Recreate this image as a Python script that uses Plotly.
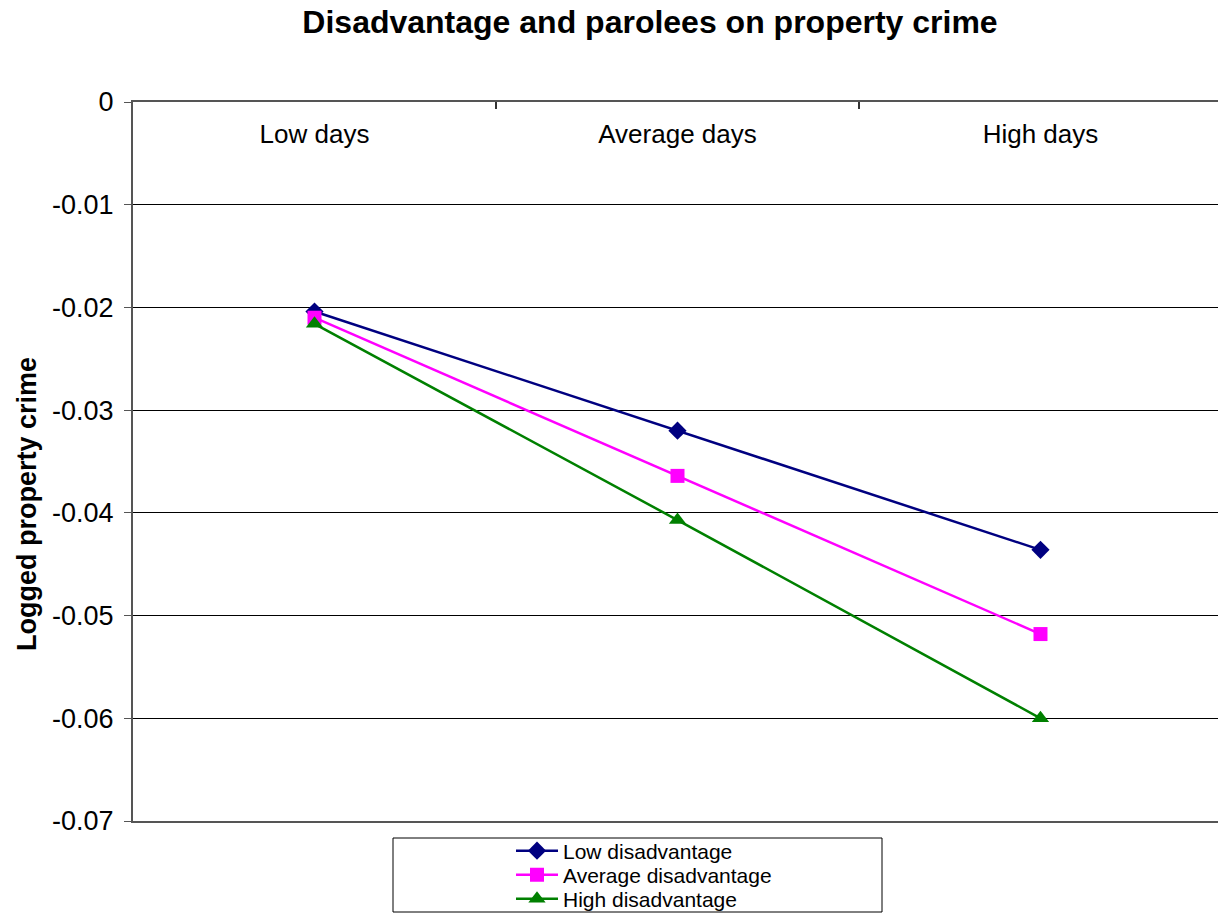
import plotly.graph_objects as go

# Category positions along the x axis
days = ["Low days", "Average days", "High days"]
day_pos = [0, 1, 2]

# Logged property crime by level of disadvantage
low_disadv = [-0.0204, -0.0320, -0.0436]
avg_disadv = [-0.0210, -0.0364, -0.0518]
high_disadv = [-0.0216, -0.0407, -0.0600]

y_ticks = [0, -0.01, -0.02, -0.03, -0.04, -0.05, -0.06, -0.07]
y_ticktext = ["0", "-0.01", "-0.02", "-0.03", "-0.04", "-0.05", "-0.06", "-0.07"]

FONT = "Liberation Sans, Arial, sans-serif"
W, H = 1218, 914
L, T, B = 133, 102, 93
PLOT_W = W - L
PLOT_H = H - T - B
BOTTOM = T + PLOT_H


def px_x(v):
    return (v - L) / PLOT_W


def px_y(v):
    return (BOTTOM - v) / PLOT_H


fig = go.Figure()
series = [
    ("Low disadvantage", low_disadv, "#000080", "diamond", 14, "legend", 851),
    ("Average disadvantage", avg_disadv, "#FF00FF", "square", 14, "legend2", 875),
    ("High disadvantage", high_disadv, "#008000", "triangle-up", 15, "legend3", 899),
]
for name, vals, color, sym, size, leg, _ in series:
    fig.add_trace(go.Scatter(
        x=day_pos, y=vals, name=name, mode="lines+markers", legend=leg,
        line=dict(color=color, width=2.5),
        marker=dict(symbol=sym, size=size, color=color, line=dict(width=0)),
    ))

x_range = [-0.5, 2.489]

# Legend frame
fig.add_shape(type="rect", xref="paper", yref="paper",
              x0=px_x(393), x1=px_x(882), y0=px_y(912), y1=px_y(838),
              line=dict(color="black", width=1), fillcolor="rgba(0,0,0,0)")

# Vertical axis title
fig.add_annotation(text="<b>Logged property crime</b>", textangle=-90,
                   xref="paper", yref="paper", x=px_x(27), y=px_y(504),
                   xanchor="center", yanchor="middle", showarrow=False,
                   font=dict(size=27, family=FONT, color="black"))

legend_common = dict(
    xanchor="left", yanchor="middle", x=px_x(511),
    font=dict(size=21, family=FONT, color="black"),
    bgcolor="rgba(0,0,0,0)", borderwidth=0, itemwidth=42,
)

fig.update_layout(
    width=W, height=H,
    margin=dict(l=L, r=0, t=T, b=B, autoexpand=False),
    paper_bgcolor="white", plot_bgcolor="white",
    font=dict(family=FONT, color="black"),
    title=dict(text="<b>Disadvantage and parolees on property crime</b>",
               font=dict(size=32, family=FONT, color="black"), x=650 / W, xanchor="center",
               y=1 - 22 / H, yanchor="middle"),
    # Category axis line along y = 0 with boundary ticks
    xaxis=dict(
        range=x_range, tickvals=[0.5, 1.5], ticks="inside", ticklen=7, tickwidth=2,
        tickcolor="#333333", showticklabels=False,
        side="top", showline=True, linecolor="#555555", linewidth=2, mirror=True,
        showgrid=False, zeroline=False, fixedrange=True,
    ),
    # Category labels just under the top axis line
    xaxis3=dict(
        range=x_range, tickvals=day_pos, ticktext=days, anchor="free",
        position=1 - 14 / PLOT_H, side="bottom", overlaying="x", ticks="",
        tickfont=dict(size=26, family=FONT, color="black"),
        showline=False, showgrid=False, zeroline=False,
    ),
    yaxis=dict(
        range=[-0.07, 0], tickvals=y_ticks, ticktext=y_ticktext,
        ticks="outside", ticklen=7, tickcolor="#555555", tickwidth=1,
        tickfont=dict(size=27, family=FONT, color="black"), ticklabelstandoff=5,
        showline=True, linecolor="#555555", linewidth=2,
        showgrid=True, gridcolor="black", gridwidth=1, zeroline=False,
    ),
    legend=dict(legend_common, y=px_y(series[0][6])),
    legend2=dict(legend_common, y=px_y(series[1][6])),
    legend3=dict(legend_common, y=px_y(series[2][6])),
    showlegend=True,
)

# Empty trace so the label axis is drawn
fig.add_trace(go.Scatter(x=[], y=[], xaxis="x3", showlegend=False, hoverinfo="skip"))

fig.write_html("out.html")
